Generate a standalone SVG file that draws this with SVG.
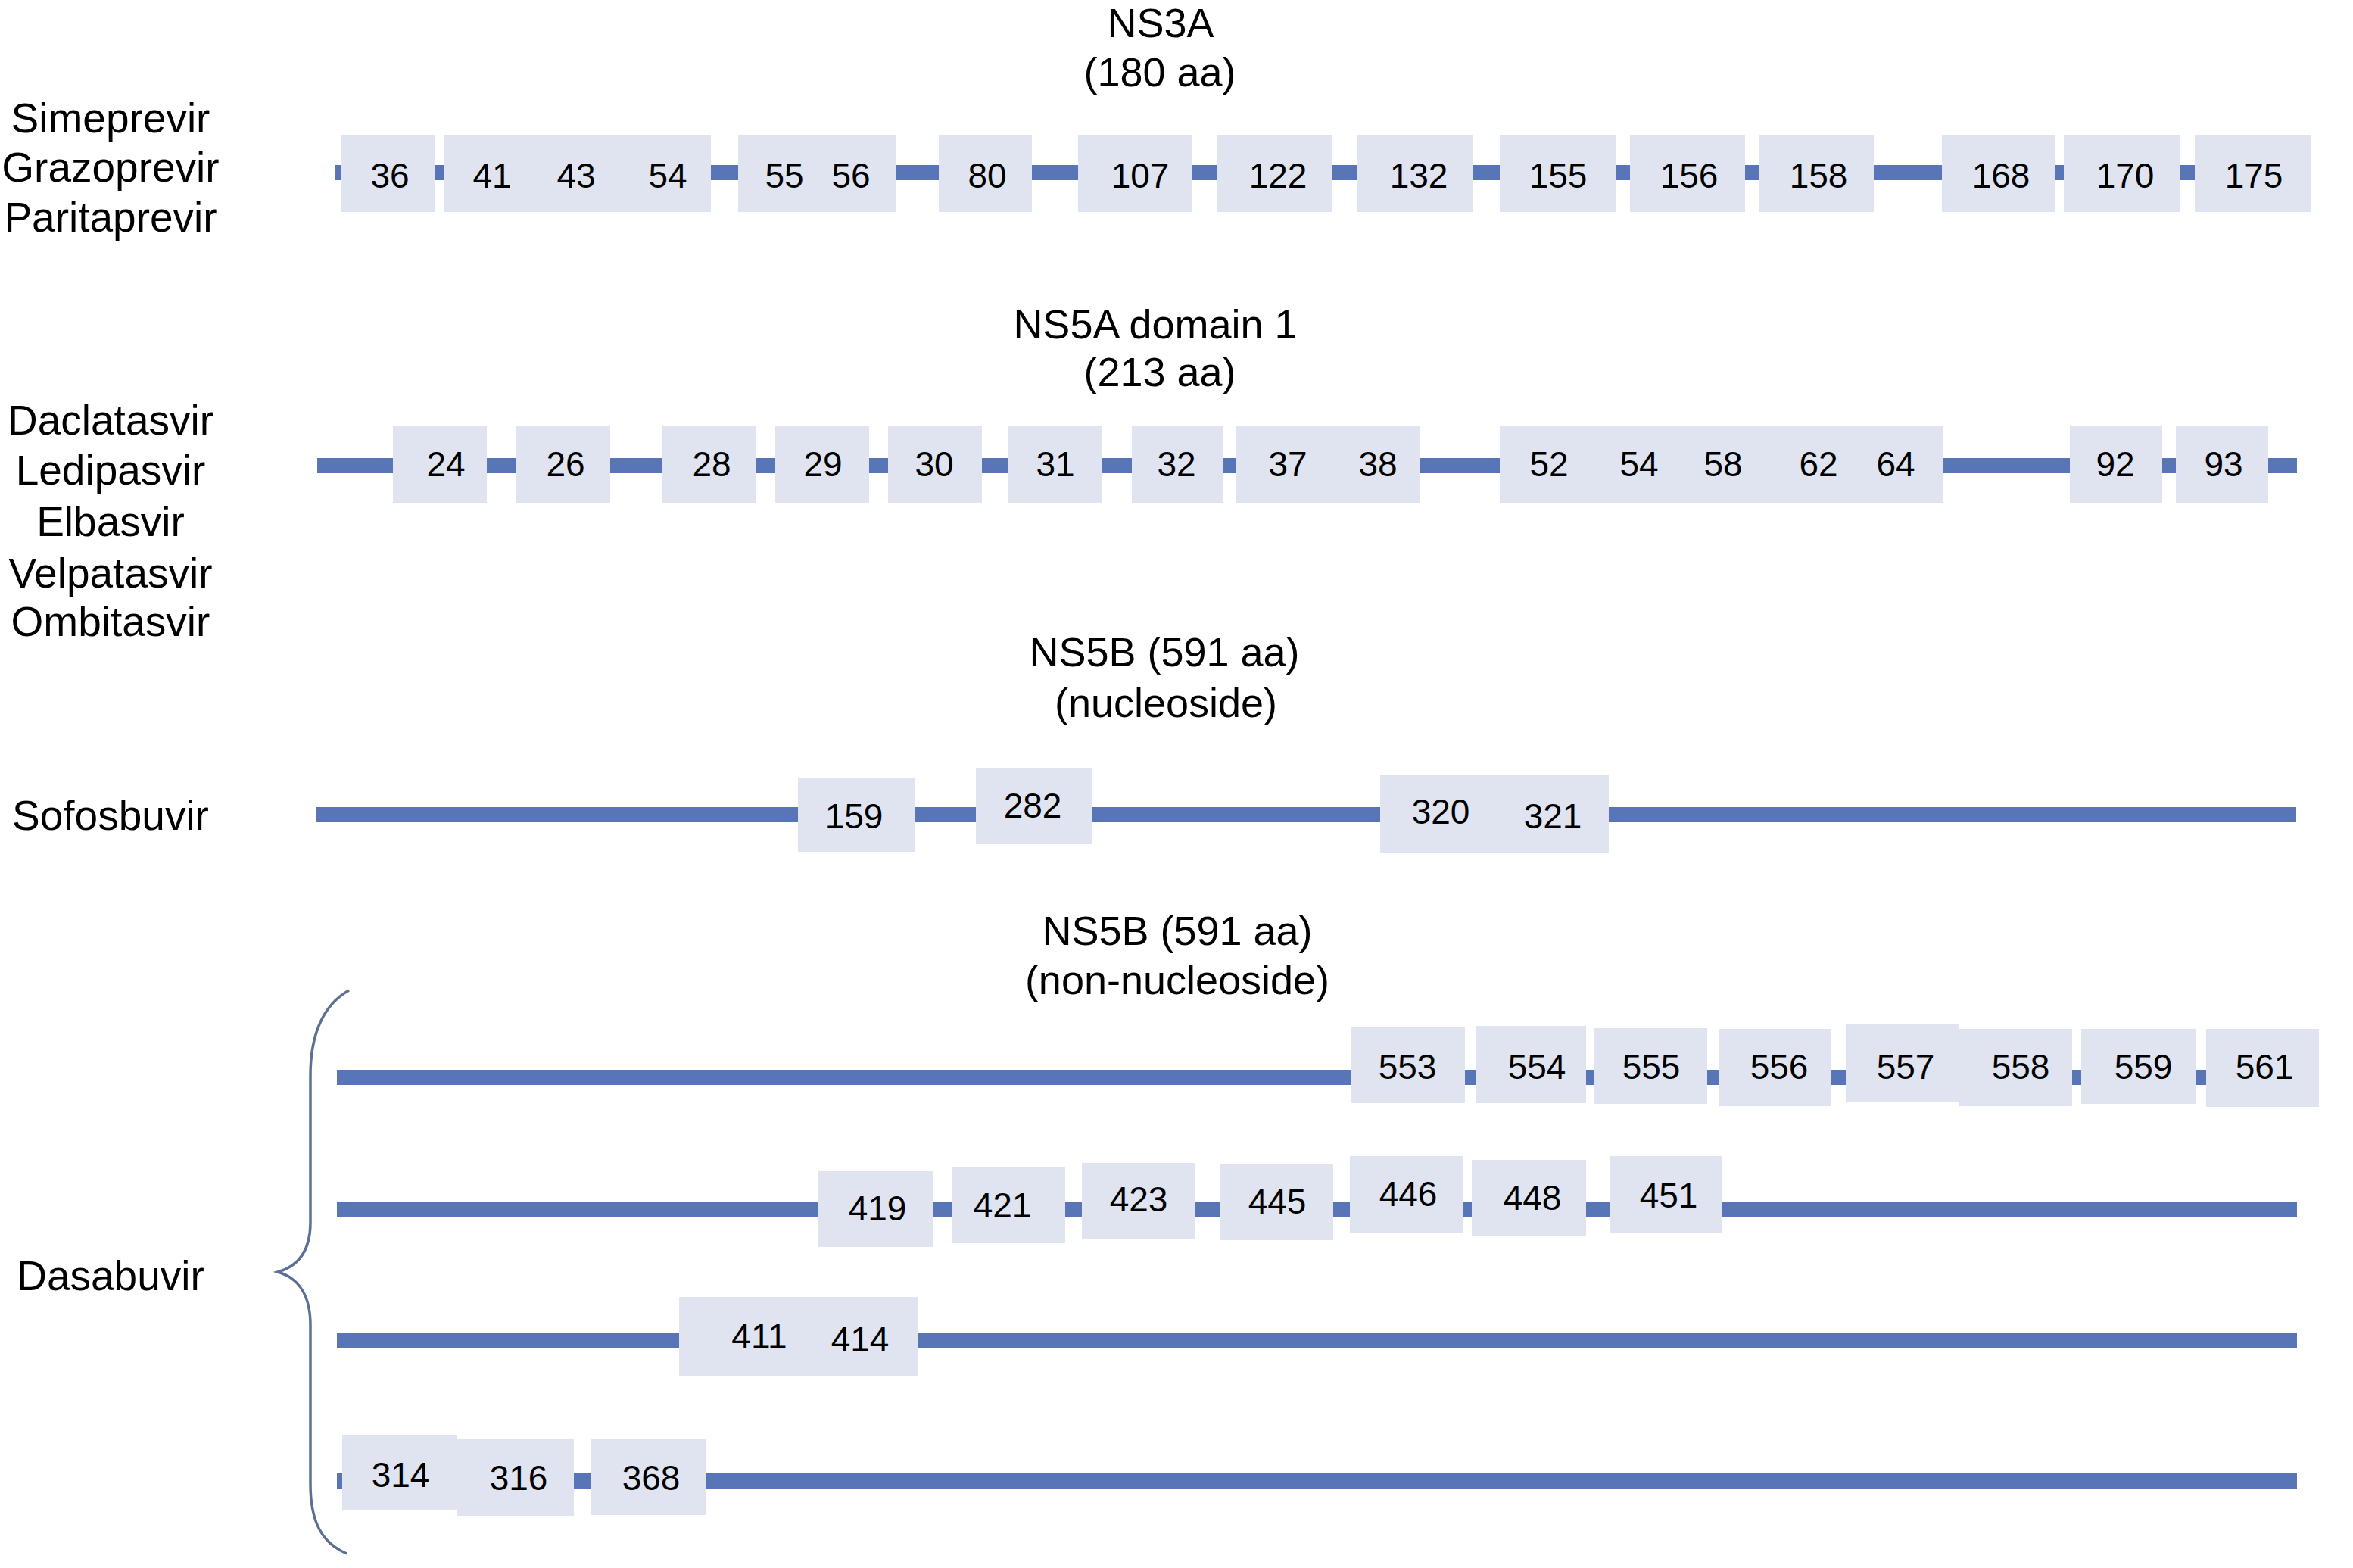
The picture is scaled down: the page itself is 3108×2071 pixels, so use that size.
<svg xmlns="http://www.w3.org/2000/svg" width="3108" height="2071" viewBox="0 0 3108 2071">
<style>
text{font-family:"Liberation Sans",Arial,sans-serif;fill:#000}
.t{font-size:54px;text-anchor:middle}
.l{font-size:55px;text-anchor:middle}
.n{font-size:46px;text-anchor:middle}
.bx{fill:#dfe4f0}
.ln{stroke:#5875b8;stroke-width:20;fill:none}
.br{stroke:#5d6f94;stroke-width:3.5;fill:none}
</style>
<rect width="3108" height="2071" fill="#fff"/>
<g id="titles">
<text class="t" x="1533" y="49">NS3A</text>
<text class="t" x="1532" y="114">(180 aa)</text>
<text class="t" x="1526" y="447">NS5A domain 1</text>
<text class="t" x="1532" y="510">(213 aa)</text>
<text class="t" x="1538" y="880">NS5B (591 aa)</text>
<text class="t" x="1540" y="947">(nucleoside)</text>
<text class="t" x="1555" y="1248">NS5B (591 aa)</text>
<text class="t" x="1555" y="1313">(non-nucleoside)</text>
</g>
<g id="drug-labels">
<text class="l" x="146" y="175">Simeprevir</text>
<text class="l" x="146" y="240">Grazoprevir</text>
<text class="l" x="146" y="306">Paritaprevir</text>
<text class="l" x="146" y="574">Daclatasvir</text>
<text class="l" x="146" y="640">Ledipasvir</text>
<text class="l" x="146" y="708">Elbasvir</text>
<text class="l" x="146" y="776">Velpatasvir</text>
<text class="l" x="146" y="840">Ombitasvir</text>
<text class="l" x="146" y="1096">Sofosbuvir</text>
<text class="l" x="146" y="1704">Dasabuvir</text>
</g>
<g id="connectors">
<line class="ln" x1="443" y1="228" x2="3050" y2="228"/>
<line class="ln" x1="419" y1="615" x2="3034" y2="615"/>
<line class="ln" x1="418" y1="1076" x2="3033" y2="1076"/>
<line class="ln" x1="445" y1="1423" x2="3060" y2="1423"/>
<line class="ln" x1="445" y1="1597" x2="3034" y2="1597"/>
<line class="ln" x1="445" y1="1771" x2="3034" y2="1771"/>
<line class="ln" x1="445" y1="1956" x2="3034" y2="1956"/>
<path class="br" d="M461 1308 C425 1328 410 1370 410 1420 L410 1615 C410 1650 395 1672 367 1680 C395 1688 410 1712 410 1750 L410 1960 C410 2010 425 2038 458 2052"/>
</g>
<g id="ns3a">
<g id="b36"><rect class="bx" x="451" y="178" width="124" height="102"/><text class="n" x="515" y="248">36</text></g>
<g id="b41-54"><rect class="bx" x="586" y="178" width="353" height="102"/><text class="n" x="650" y="248">41</text><text class="n" x="761" y="248">43</text><text class="n" x="882" y="248">54</text></g>
<g id="b55-56"><rect class="bx" x="975" y="178" width="209" height="102"/><text class="n" x="1036" y="248">55</text><text class="n" x="1124" y="248">56</text></g>
<g id="b80"><rect class="bx" x="1240" y="178" width="123" height="102"/><text class="n" x="1304" y="248">80</text></g>
<g id="b107"><rect class="bx" x="1424" y="178" width="151" height="102"/><text class="n" x="1506" y="248">107</text></g>
<g id="b122"><rect class="bx" x="1607" y="178" width="153" height="102"/><text class="n" x="1688" y="248">122</text></g>
<g id="b132"><rect class="bx" x="1793" y="178" width="153" height="102"/><text class="n" x="1874" y="248">132</text></g>
<g id="b155"><rect class="bx" x="1981" y="178" width="153" height="102"/><text class="n" x="2058" y="248">155</text></g>
<g id="b156"><rect class="bx" x="2153" y="178" width="152" height="102"/><text class="n" x="2231" y="248">156</text></g>
<g id="b158"><rect class="bx" x="2323" y="178" width="152" height="102"/><text class="n" x="2402" y="248">158</text></g>
<g id="b168"><rect class="bx" x="2565" y="178" width="149" height="102"/><text class="n" x="2643" y="248">168</text></g>
<g id="b170"><rect class="bx" x="2726" y="178" width="154" height="102"/><text class="n" x="2807" y="248">170</text></g>
<g id="b175"><rect class="bx" x="2899" y="178" width="154" height="102"/><text class="n" x="2977" y="248">175</text></g>
</g>
<g id="ns5a">
<g id="b24"><rect class="bx" x="519" y="563" width="124" height="101"/><text class="n" x="589" y="629">24</text></g>
<g id="b26"><rect class="bx" x="682" y="563" width="124" height="101"/><text class="n" x="747" y="629">26</text></g>
<g id="b28"><rect class="bx" x="875" y="563" width="124" height="101"/><text class="n" x="940" y="629">28</text></g>
<g id="b29"><rect class="bx" x="1024" y="563" width="124" height="101"/><text class="n" x="1087" y="629">29</text></g>
<g id="b30"><rect class="bx" x="1173" y="563" width="124" height="101"/><text class="n" x="1234" y="629">30</text></g>
<g id="b31"><rect class="bx" x="1331" y="563" width="124" height="101"/><text class="n" x="1394" y="629">31</text></g>
<g id="b32"><rect class="bx" x="1495" y="563" width="120" height="101"/><text class="n" x="1554" y="629">32</text></g>
<g id="b37-38"><rect class="bx" x="1632" y="563" width="244" height="101"/><text class="n" x="1701" y="629">37</text><text class="n" x="1820" y="629">38</text></g>
<g id="b52-64"><rect class="bx" x="1981" y="563" width="585" height="101"/><text class="n" x="2046" y="629">52</text><text class="n" x="2165" y="629">54</text><text class="n" x="2276" y="629">58</text><text class="n" x="2402" y="629">62</text><text class="n" x="2504" y="629">64</text></g>
<g id="b92"><rect class="bx" x="2734" y="563" width="122" height="101"/><text class="n" x="2794" y="629">92</text></g>
<g id="b93"><rect class="bx" x="2874" y="563" width="122" height="101"/><text class="n" x="2937" y="629">93</text></g>
</g>
<g id="ns5b-nuc">
<g id="b159"><rect class="bx" x="1054" y="1027" width="154" height="98"/><text class="n" x="1128" y="1094">159</text></g>
<g id="b282"><rect class="bx" x="1289" y="1015" width="153" height="100"/><text class="n" x="1364" y="1080">282</text></g>
<g id="b320-321"><rect class="bx" x="1823" y="1023" width="302" height="103"/><text class="n" x="1903" y="1088">320</text><text class="n" x="2051" y="1094">321</text></g>
</g>
<g id="ns5b-row1">
<g id="b553"><rect class="bx" x="1785" y="1357" width="150" height="100"/><text class="n" x="1859" y="1425">553</text></g>
<g id="b554"><rect class="bx" x="1949" y="1355" width="146" height="102"/><text class="n" x="2030" y="1425">554</text></g>
<g id="b555"><rect class="bx" x="2106" y="1358" width="149" height="100"/><text class="n" x="2181" y="1425">555</text></g>
<g id="b556"><rect class="bx" x="2270" y="1359" width="148" height="102"/><text class="n" x="2350" y="1425">556</text></g>
<g id="b557"><rect class="bx" x="2438" y="1353" width="149" height="103"/><text class="n" x="2517" y="1425">557</text></g>
<g id="b558"><rect class="bx" x="2587" y="1359" width="150" height="102"/><text class="n" x="2669" y="1425">558</text></g>
<g id="b559"><rect class="bx" x="2749" y="1359" width="152" height="99"/><text class="n" x="2831" y="1425">559</text></g>
<g id="b561"><rect class="bx" x="2914" y="1359" width="149" height="103"/><text class="n" x="2991" y="1425">561</text></g>
</g>
<g id="ns5b-row2">
<g id="b419"><rect class="bx" x="1081" y="1547" width="152" height="100"/><text class="n" x="1159" y="1612">419</text></g>
<g id="b421"><rect class="bx" x="1257" y="1542" width="150" height="100"/><text class="n" x="1324" y="1608">421</text></g>
<g id="b423"><rect class="bx" x="1429" y="1536" width="150" height="101"/><text class="n" x="1504" y="1600">423</text></g>
<g id="b445"><rect class="bx" x="1611" y="1538" width="150" height="100"/><text class="n" x="1687" y="1603">445</text></g>
<g id="b446"><rect class="bx" x="1783" y="1527" width="149" height="101"/><text class="n" x="1860" y="1593">446</text></g>
<g id="b448"><rect class="bx" x="1944" y="1532" width="151" height="101"/><text class="n" x="2024" y="1598">448</text></g>
<g id="b451"><rect class="bx" x="2127" y="1527" width="148" height="101"/><text class="n" x="2204" y="1595">451</text></g>
</g>
<g id="ns5b-row3">
<g id="b411-414"><rect class="bx" x="897" y="1713" width="315" height="104"/><text class="n" x="1003" y="1781">411</text><text class="n" x="1136" y="1785">414</text></g>
</g>
<g id="ns5b-row4">
<g id="b314"><rect class="bx" x="452" y="1895" width="151" height="100"/><text class="n" x="529" y="1964">314</text></g>
<g id="b316"><rect class="bx" x="603" y="1900" width="155" height="102"/><text class="n" x="685" y="1968">316</text></g>
<g id="b368"><rect class="bx" x="781" y="1900" width="152" height="101"/><text class="n" x="860" y="1968">368</text></g>
</g>
</svg>
